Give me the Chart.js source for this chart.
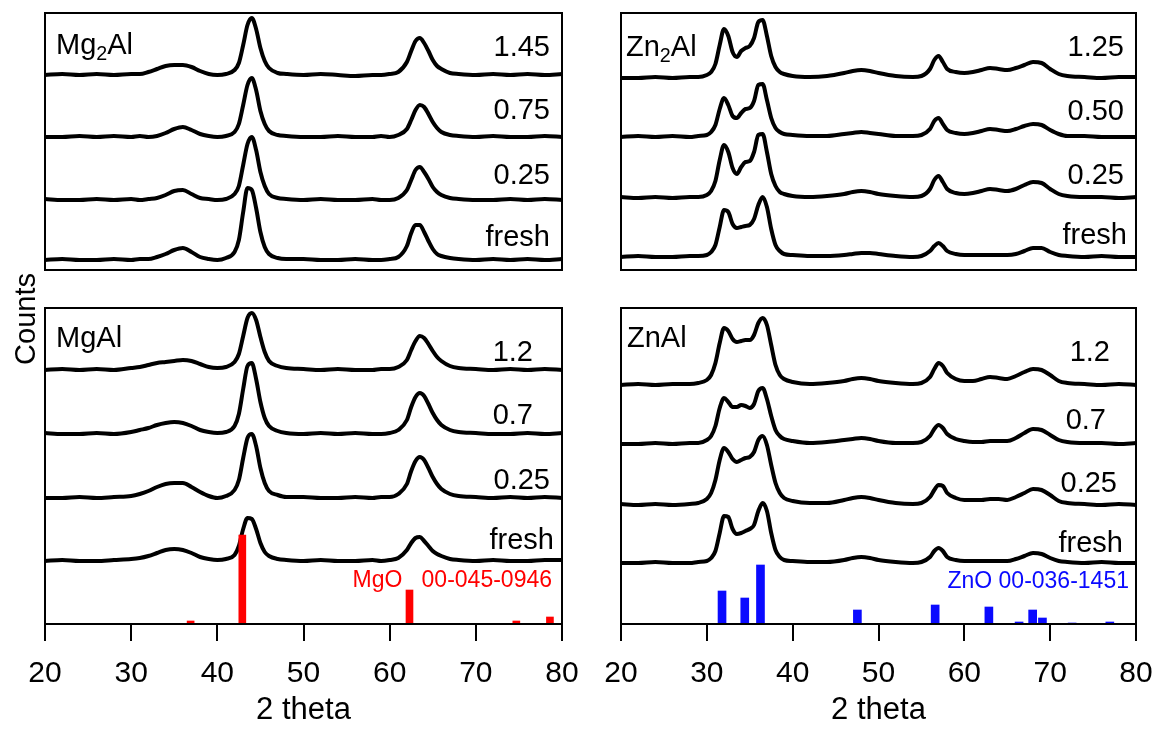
<!DOCTYPE html>
<html><head><meta charset="utf-8">
<script src="https://cdn.jsdelivr.net/npm/chart.js@4.4.0/dist/chart.umd.min.js"></script>
<style>
html,body{margin:0;padding:0;background:#fff;}
#wrap{position:relative;width:1160px;height:729px;overflow:hidden;font-family:"Liberation Sans",Arial,sans-serif;}
canvas{position:absolute;left:0;top:0;}
.lbl{position:absolute;white-space:pre;line-height:1;color:#000;}
.sub{font-size:0.68em;position:relative;top:0.28em;}
</style></head><body><div id="wrap">
<canvas id="cTL" width="1160" height="729"></canvas>
<canvas id="cTR" width="1160" height="729"></canvas>
<canvas id="cBL" width="1160" height="729"></canvas>
<canvas id="cBR" width="1160" height="729"></canvas>
</div>
<script>
// ---------- data ----------
const xTicks = [20, 30, 40, 50, 60, 70, 80];
const axisTitle = '2 theta';
const yTitle = 'Counts';

const mgTheta = [20,22,24,26,28, 30,31,32,33,34, 35,36,37,38,39, 40,41,42,42.5,43, 43.5,44,44.5,45,45.5, 46,47,48,50,52, 54,56,58,59,60, 61,62,62.5,63,63.5, 64,64.5,65,65.5,66, 67,68,70,72,74, 76,78,80];
const znTheta = [20,22,24,26,28, 29,30,30.5,31,31.5, 32,32.5,33,33.5,34, 34.5,35,35.5,36,36.5, 37,37.5,38,38.5,39, 40,42,44,46,47, 48,49,50,52,54, 55,56,56.5,57,57.5, 58,59,60,61,62, 63,64,65,66,67, 68,69,70,71,72, 74,76,78,80];

// Mg2Al (top-left)
const mg2alName = 'Mg<span class="sub">2</span>Al';
const mg2alLabels = ['1.45', '0.75', '0.25', 'fresh'];
const mg2al_145 = [0,1,0,1,0, 1,1,3,6,9, 10,10,8,4,1, 0,1,5,12,30, 50,57,46,27,14, 7,2,1,0,1, 0,-1,0,0,1, 3,13,24,34,37, 32,24,15,9,6, 2,1,0,1,0, 1,0,1];
const mg2al_075 = [0,0,1,0,1, 0,1,0,1,4, 8,10,7,3,1, 0,1,5,13,32, 52,59,47,26,13, 6,2,1,0,0, 1,0,0,1,0, 2,8,17,27,32, 30,23,15,9,5, 2,1,0,1,0, 0,1,0];
const mg2al_025 = [1,0,0,1,0, 1,0,1,2,5, 9,10,6,2,1, 0,1,6,14,35, 56,63,50,28,14, 6,2,1,0,1, 0,0,1,0,0, 2,10,20,30,33, 28,21,13,8,5, 2,1,0,0,1, 0,1,0];
const mg2al_fresh = [0,1,0,0,1, 0,1,1,3,6, 10,12,8,3,1, 0,2,8,20,48, 72,70,52,28,13, 6,2,1,1,0, 0,1,0,0,1, 3,14,27,35,35, 28,19,11,6,4, 2,1,0,1,0, 1,0,1];
const mg2alOffsets = [195, 133, 70, 10];

// Zn2Al (top-right)
const zn2alName = 'Zn<span class="sub">2</span>Al';
const zn2alLabels = ['1.25', '0.50', '0.25', 'fresh'];
const zn2al_125 = [0,0,1,0,1, 1,3,6,14,33, 49,42,26,21,27, 30,32,40,56,58, 42,22,11,6,4, 2,1,2,5,7, 8,7,5,2,1, 2,9,18,22,16, 9,6,5,6,8, 10,9,8,10,13, 16,15,9,4,2, 1,0,1,1];
const zn2al_050 = [0,1,0,1,0, 1,2,5,12,28, 39,32,21,19,24, 28,29,36,52,53, 37,19,9,5,3, 2,1,1,3,4, 5,4,3,1,1, 2,8,16,19,13, 7,4,3,4,6, 8,7,6,8,11, 13,12,7,3,1, 1,0,0,0];
const zn2al_025 = [1,0,1,0,1, 1,3,7,17,38, 53,46,30,24,31, 36,37,46,63,64, 46,24,12,6,4, 2,1,2,4,6, 7,6,4,2,1, 2,9,18,22,16, 9,5,4,5,7, 9,8,7,9,13, 16,15,9,4,2, 1,1,0,1];
const zn2al_fresh = [0,1,0,0,1, 1,2,5,12,30, 47,45,33,29,30, 31,32,38,52,60, 50,28,12,6,3, 2,1,1,2,3, 4,4,3,1,0, 1,6,11,14,11, 6,3,2,2,2, 2,2,2,3,6, 9,9,5,2,1, 0,1,0,0];
const zn2alOffsets = [192, 133, 72, 13];

// MgAl (bottom-left)
const mgalName = 'MgAl';
const mgalLabels = ['1.2', '0.7', '0.25', 'fresh'];
const mgal_12 = [0,1,0,1,0, 2,3,5,7,8, 9,10,9,6,3, 2,3,8,16,34, 52,57,50,33,18, 9,4,2,1,0, 1,0,0,1,1, 3,10,20,29,34, 32,26,19,13,9, 4,2,1,0,1, 0,1,0];
const mgal_07 = [1,0,0,1,0, 2,4,6,9,11, 12,11,8,4,2, 1,2,8,20,45, 68,71,55,32,16, 8,3,1,0,1, 0,1,0,0,1, 4,14,27,37,41, 38,30,21,14,9, 4,2,1,0,0, 1,0,1];
const mgal_025 = [0,0,1,0,1, 2,4,7,11,14, 15,15,11,6,2, 0,2,8,18,40, 60,64,52,30,15, 7,3,1,1,0, 0,1,0,1,1, 4,14,27,37,41, 38,30,21,14,9, 4,2,1,0,1, 0,1,0];
const mgal_fresh = [0,1,0,0,1, 2,3,5,8,11, 12,11,8,4,2, 1,2,6,15,32, 43,42,32,18,9, 5,2,1,0,1, 0,0,1,0,1, 3,11,18,23,24, 20,15,10,7,5, 2,1,0,1,0, 0,1,1];
const mgalOffsets = [254, 190, 126, 63];

// ZnAl (bottom-right)
const znalName = 'ZnAl';
const znalLabels = ['1.2', '0.7', '0.25', 'fresh'];
const znal_12 = [0,1,0,1,1, 2,5,10,22,42, 57,54,46,43,44, 45,45,50,62,67, 60,40,20,10,6, 3,1,2,4,6, 7,6,4,2,1, 2,8,16,22,19, 12,6,4,4,6, 8,7,6,9,13, 16,15,10,4,2, 1,0,1,0];
const znal_07 = [0,0,1,0,1, 1,4,8,18,36, 46,42,37,37,39, 38,36,40,53,56, 45,28,14,8,5, 3,1,2,4,5, 6,5,3,1,1, 2,8,15,19,16, 10,5,3,2,2, 3,3,3,6,11, 15,14,9,4,2, 1,1,0,1];
const znal_025 = [1,0,1,0,1, 2,6,12,25,45, 57,53,46,43,45, 47,48,53,65,69, 60,40,22,12,7, 4,2,2,5,7, 8,7,5,2,1, 2,8,15,20,19, 12,7,5,5,5, 6,6,5,8,12, 16,15,10,4,2, 1,0,1,0];
const znal_fresh = [0,0,1,0,0, 1,2,5,12,30, 47,46,34,29,30, 32,34,38,52,60, 52,30,13,6,3, 2,1,1,3,5, 6,5,3,1,0, 1,6,12,15,12, 6,3,2,2,2, 2,2,2,4,7, 10,9,5,2,1, 0,1,0,0];
const znalOffsets = [239, 180, 119, 61];

// Reference patterns
const mgoName = 'MgO   00-045-0946';
const mgoTheta = [36.9, 42.9, 62.3, 74.7, 78.6];
const mgoIntensity = [3, 89, 34, 3, 7];
const znoName = 'ZnO 00-036-1451';
const znoTheta = [31.77, 34.42, 36.25, 47.54, 56.6, 62.86, 66.38, 67.96, 69.1, 72.56, 76.95];
const znoIntensity = [33, 26, 59, 14, 19, 17, 2, 14, 6, 1, 2];

// ---------- layout / style ----------
const FONT = '"Liberation Sans", Arial, sans-serif';
const W = 1160, H = 729;
const areas = {
  TL: {left: 45, top: 13, right: 562, bottom: 270},
  TR: {left: 621, top: 13, right: 1136, bottom: 270},
  BL: {left: 45, top: 308, right: 562, bottom: 624},
  BR: {left: 621, top: 308, right: 1136, bottom: 624}
};

const framePlugin = {
  id: 'frame',
  afterDatasetsDraw(chart) {
    const {ctx, chartArea: a} = chart;
    ctx.save();
    ctx.strokeStyle = '#000';
    ctx.lineWidth = 2;
    ctx.strokeRect(a.left, a.top, a.right - a.left, a.bottom - a.top);
    ctx.restore();
  }
};

function makePanel(id, area, theta, series, offsets, ref, showAxis) {
  const datasets = series.map((vals, i) => ({
    type: 'line',
    data: theta.map((t, j) => ({x: t, y: vals[j] + offsets[i]})),
    borderColor: '#000',
    borderWidth: 4,
    pointRadius: 0,
    fill: false,
    cubicInterpolationMode: 'monotone',
    order: 1
  }));
  if (ref) {
    datasets.push({
      type: 'bar',
      data: ref.theta.map((t, j) => ({x: t, y: ref.values[j]})),
      backgroundColor: ref.color,
      borderWidth: 0,
      barThickness: ref.thickness,
      order: 0
    });
  }
  return new Chart(document.getElementById(id), {
    type: 'line',
    data: {datasets},
    plugins: [framePlugin],
    options: {
      responsive: false,
      animation: false,
      devicePixelRatio: 1,
      events: [],
      layout: {padding: {left: area.left, top: area.top, right: W - area.right, bottom: showAxis ? 0 : H - area.bottom}},
      plugins: {legend: {display: false}, tooltip: {enabled: false}},
      scales: {
        x: {
          type: 'linear', min: 20, max: 80, offset: false, display: showAxis,
          afterBuildTicks: s => { s.ticks = xTicks.map(v => ({value: v})); },
          ticks: {font: {family: FONT, size: 30}, color: '#000', padding: 15, maxRotation: 0, autoSkip: false},
          grid: {display: true, offset: false, drawOnChartArea: false, drawTicks: true, tickLength: 17, tickWidth: 2, tickColor: '#000', color: '#000', lineWidth: 2},
          border: {display: true, color: '#000', width: 2},
          title: {display: true, text: axisTitle, font: {family: FONT, size: 31}, color: '#000', padding: {top: 0, bottom: 0}},
          afterFit: s => {
            if (showAxis) s.height = H - area.bottom;
            s.paddingLeft = 0; s.paddingRight = 0;
          }
        },
        y: {display: false, min: 0, max: area.bottom - area.top}
      }
    }
  });
}

makePanel('cTL', areas.TL, mgTheta, [mg2al_145, mg2al_075, mg2al_025, mg2al_fresh], mg2alOffsets, null, false);
makePanel('cTR', areas.TR, znTheta, [zn2al_125, zn2al_050, zn2al_025, zn2al_fresh], zn2alOffsets, null, false);
makePanel('cBL', areas.BL, mgTheta, [mgal_12, mgal_07, mgal_025, mgal_fresh], mgalOffsets,
  {theta: mgoTheta, values: mgoIntensity, color: '#ff0000', thickness: 7}, true);
makePanel('cBR', areas.BR, znTheta, [znal_12, znal_07, znal_025, znal_fresh], znalOffsets,
  {theta: znoTheta, values: znoIntensity, color: '#0a0aff', thickness: 8}, true);

// ---------- text labels ----------
const wrap = document.getElementById('wrap');
function addLabel(html, opts) {
  const d = document.createElement('div');
  d.className = 'lbl';
  d.innerHTML = html;
  const fs = opts.size || 29;
  d.style.fontSize = fs + 'px';
  d.style.top = (opts.base - 0.8465 * fs) + 'px';
  if (opts.left !== undefined) d.style.left = opts.left + 'px';
  if (opts.right !== undefined) d.style.right = (W - opts.right) + 'px';
  if (opts.color) d.style.color = opts.color;
  wrap.appendChild(d);
}
const seriesLabelPos = {
  TL: {rights: [550, 550, 550, 550], bases: [57, 120, 185, 247], name: {left: 56, base: 55}},
  TR: {rights: [1124, 1124, 1124, 1127], bases: [57, 121, 185, 245], name: {left: 626, base: 57}},
  BL: {rights: [533, 533, 550, 554], bases: [362, 425, 490, 550], name: {left: 56, base: 348}},
  BR: {rights: [1110, 1106, 1117, 1123], bases: [362, 430, 493, 553], name: {left: 627, base: 348}}
};
[['TL', mg2alName, mg2alLabels], ['TR', zn2alName, zn2alLabels], ['BL', mgalName, mgalLabels], ['BR', znalName, znalLabels]]
  .forEach(([k, name, labels]) => {
    const p = seriesLabelPos[k];
    addLabel(name, {left: p.name.left, base: p.name.base});
    labels.forEach((t, i) => addLabel(t, {right: p.rights[i], base: p.bases[i]}));
  });
addLabel(mgoName, {right: 552, base: 587, size: 23, color: '#ff0000'});
addLabel(znoName, {right: 1129, base: 588, size: 23, color: '#0a0aff'});

const yl = document.createElement('div');
yl.className = 'lbl';
yl.textContent = yTitle;
yl.style.fontSize = '29px';
yl.style.left = '25px';
yl.style.top = '319px';
yl.style.transform = 'translate(-50%,-50%) rotate(-90deg)';
wrap.appendChild(yl);
</script>
</body></html>
